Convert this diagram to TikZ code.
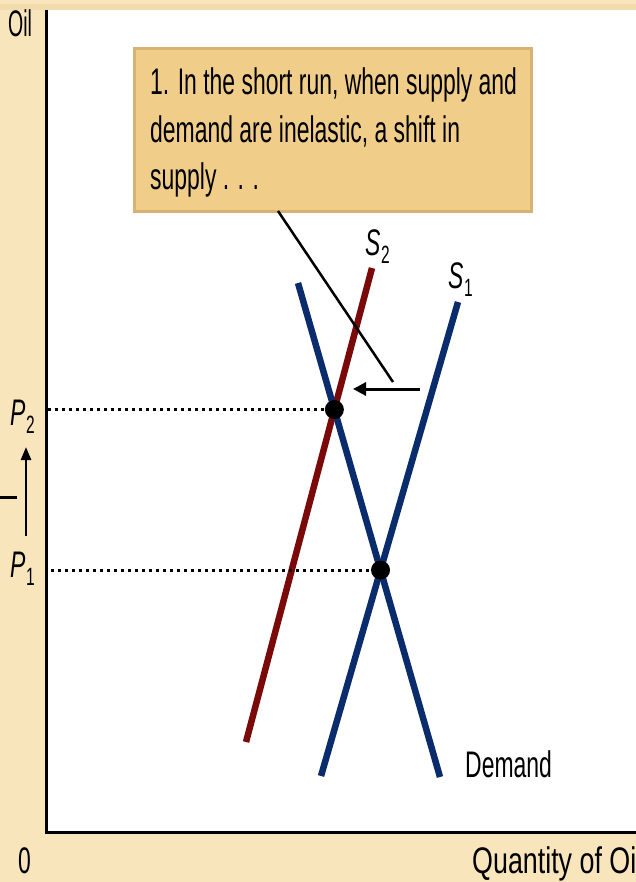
\documentclass[tikz,border=0pt]{standalone}
\usepackage{fontspec}
\setmainfont[FakeStretch=0.62]{Liberation Sans}
\usetikzlibrary{arrows.meta,intersections}
\definecolor{bgbeige}{HTML}{F8E5BC}
\definecolor{topband}{HTML}{F2DCAE}
\definecolor{boxfill}{HTML}{F0CD88}
\definecolor{boxedge}{HTML}{D6B372}
\definecolor{dblue}{HTML}{0B2C6C}
\definecolor{dred}{HTML}{7A0A0A}
\newcommand\varlbl[2]{\textit{#1}\kern0.5pt\raisebox{-8pt}{\fontsize{25}{25}\selectfont #2}}
\begin{document}
\begin{tikzpicture}[x=1pt,y=-1pt,
  lbl/.style={inner sep=0pt, font=\fontsize{37}{47.5}\selectfont},
  axisline/.style={line width=3pt, black},
  curveline/.style={line width=6.5pt},
  dotline/.style={line width=3pt, dash pattern=on 3pt off 4pt},
  eqdot/.style={circle, fill=black, inner sep=0pt, minimum size=19pt},
  notebox/.style={draw=boxedge, fill=boxfill, line width=3pt, inner sep=0pt},
  ptr/.style={line width=2.5pt, black},
  shiftarr/.style={line width=3pt, black, -{Triangle[length=13pt,width=13pt]}},
  pricearr/.style={line width=2.5pt, black, -{Triangle[length=13pt,width=10pt]}}
]
\useasboundingbox (0,0) rectangle (636,882);
\fill[bgbeige] (0,0) rectangle (636,882);
\fill[topband] (0,4) rectangle (636,10);
\fill[white] (46,10) rectangle (636,832);

% axes
\coordinate (ytop) at (46,10);
\coordinate (origin) at (46,832);
\coordinate (xend) at (636,832);
\draw[axisline] (ytop) -- (origin) -- (xend);

% note box
\node[notebox, minimum width=397pt, minimum height=163pt, anchor=north west] (box) at (133,47) {};
\node[lbl, anchor=base west] (t1) at (150,95) {1. In the short run, when supply and};
\node[lbl, anchor=base west] (t2) at (150,142.5) {demand are inelastic, a shift in};
\node[lbl, anchor=base west] (t3) at (150,190) {supply . . .};

% curves
\coordinate (dtop) at (298,283);
\coordinate (dbot) at (440,777);
\coordinate (s1top) at (458,302);
\coordinate (s1bot) at (321,776);
\coordinate (s2top) at (372,268);
\coordinate (s2bot) at (246,742);
\draw[dred, curveline, name path=s2] (s2top) -- (s2bot);
\draw[dblue, curveline, name path=dem] (dtop) -- (dbot);
\draw[dblue, curveline, name path=s1] (s1top) -- (s1bot);
\path[name intersections={of=dem and s2, by=e2}];
\path[name intersections={of=dem and s1, by=e1}];

% dotted price lines
\coordinate (p2start) at ([xshift=2pt]e2 -| origin);
\coordinate (p1start) at ([xshift=5pt]e1 -| origin);
\node[eqdot] (p2dot) at (e2) {};
\node[eqdot] (p1dot) at (e1) {};
\draw[dotline] (p2start) -- (p2dot.west);
\draw[dotline] (p1start) -- (p1dot.west);

% pointer and shift arrow
\coordinate (ptr0) at (278,211);
\coordinate (ptr1) at (393,382);
\draw[ptr] (ptr0) -- (ptr1);
\coordinate (ar0) at (420,389);
\coordinate (ar1) at (353,389);
\draw[shiftarr] (ar0) -- (ar1);

% price rise arrow and tick
\coordinate (pa0) at (26,536);
\coordinate (pa1) at (26,447);
\draw[pricearr] (pa0) -- (pa1);
\coordinate (tk0) at (0,497);
\coordinate (tk1) at (17,497);
\draw[axisline] (tk0) -- (tk1);

% labels
\node[lbl, anchor=base west] (lp2) at (10,425) {\varlbl{P}{2}};
\node[lbl, anchor=base west] (lp1) at (10,577) {\varlbl{P}{1}};
\node[lbl, anchor=base west] (ls2) at (365,255) {\varlbl{S}{2}};
\node[lbl, anchor=base west] (ls1) at (448,288) {\varlbl{S}{1}};
\node[lbl, anchor=base west] (ldem) at (465,777) {Demand};
\node[lbl, anchor=base west] (loil) at (8,37) {\scalebox{0.85}[1]{Oil}};
\node[lbl, anchor=base west] (lzero) at (18,873) {0};
\node[lbl, anchor=base west] (lqty) at (472,873) {\scalebox{1.17}[1]{Quantity of Oi}};
\end{tikzpicture}
\end{document}
